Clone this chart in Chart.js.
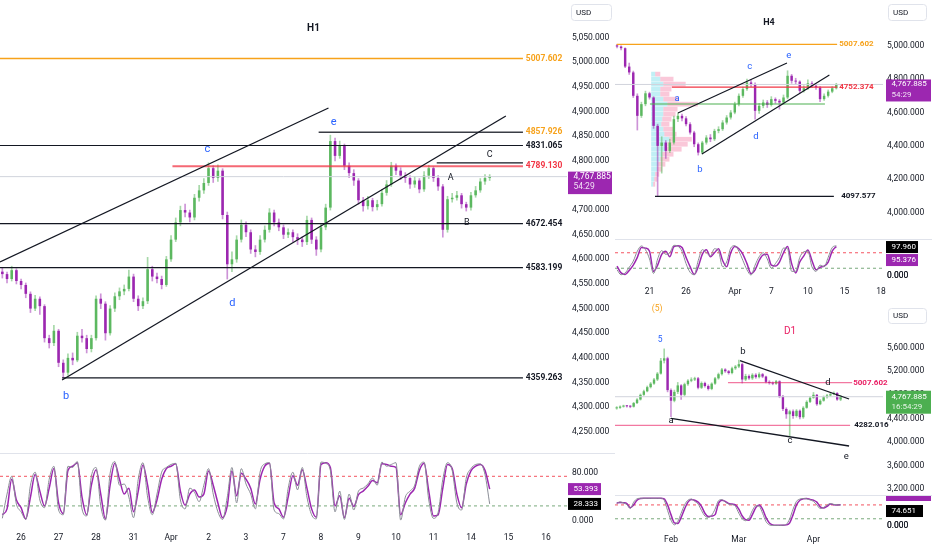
<!DOCTYPE html>
<html>
<head>
<meta charset="utf-8">
<title>H1 / H4 / D1</title>
<script src="https://cdn.jsdelivr.net/npm/chart.js@4.4.1/dist/chart.umd.min.js"></script>
<style>
  html, body { margin: 0; padding: 0; background: #fff; }
  #board { position: relative; width: 932px; height: 550px; overflow: hidden; background: #fff; }
  #board canvas { position: absolute; }
</style>
</head>
<body>
<div id="board">
  <canvas id="h1Price" width="615" height="453" style="left:0px;top:0px"></canvas>
  <canvas id="h1Stoch" width="615" height="97" style="left:0px;top:453px"></canvas>
  <canvas id="h4Price" width="317" height="239" style="left:615px;top:0px"></canvas>
  <canvas id="h4Stoch" width="317" height="61" style="left:615px;top:239px"></canvas>
  <canvas id="d1Price" width="317" height="195" style="left:615px;top:300px"></canvas>
  <canvas id="d1Stoch" width="317" height="55" style="left:615px;top:495px"></canvas>
</div>
<script>
// ---------- data ----------
const lastPrice = 4767.885;

// H1
const h1TickText = ['26', '27', '28', '31', 'Apr', '2', '3', '7', '8', '9', '10', '11', '14', '15', '16'];
const h1TickSlots = [4, 12, 20, 28, 36, 44, 52, 60, 68, 76, 84, 92, 100, 108, 116];
const h1PriceTicks = [4250, 4300, 4350, 4400, 4450, 4500, 4550, 4600, 4650, 4700, 4750, 4800, 4850, 4900, 4950, 5000, 5050];
const h1StochTicks = [0, 80];
const h1FirstOpen = 4575;
const h1Close = [4570, 4560, 4578, 4556, 4548, 4530, 4500, 4520, 4505, 4440,
  4430, 4455, 4390, 4370, 4400, 4395, 4445, 4440, 4418, 4440,
  4520, 4510, 4450, 4500, 4525, 4535, 4540, 4565, 4520, 4505,
  4515, 4580, 4565, 4560, 4548, 4600, 4640, 4675, 4700, 4695,
  4685, 4725, 4740, 4755, 4785, 4765, 4780, 4690, 4590, 4600,
  4640, 4670, 4655, 4620, 4615, 4640, 4660, 4695, 4675, 4665,
  4650, 4655, 4645, 4640, 4635, 4680, 4640, 4620, 4665, 4705,
  4840, 4810, 4830, 4790, 4775, 4760, 4720, 4708, 4720, 4706,
  4712, 4735, 4752, 4790, 4780, 4770, 4765, 4752, 4760, 4742,
  4770, 4785, 4765, 4748, 4660, 4722, 4725, 4730, 4712, 4705,
  4730, 4740, 4758, 4765, 4767.885];
const h1High = [4582, 4574, 4586, 4581, 4560, 4552, 4534, 4527, 4524, 4508,
  4446, 4466, 4458, 4396, 4408, 4410, 4452, 4458, 4446, 4446,
  4526, 4530, 4514, 4506, 4532, 4542, 4548, 4578, 4570, 4526,
  4522, 4604, 4586, 4572, 4566, 4606, 4648, 4684, 4708, 4712,
  4700, 4732, 4750, 4764, 4796, 4790, 4792, 4784, 4696, 4615,
  4648, 4680, 4676, 4660, 4628, 4648, 4668, 4703, 4700, 4682,
  4670, 4662, 4660, 4652, 4646, 4688, 4684, 4646, 4672, 4712,
  4852, 4846, 4840, 4834, 4796, 4782, 4764, 4726, 4728, 4724,
  4720, 4742, 4760, 4797, 4794, 4786, 4776, 4770, 4768, 4764,
  4778, 4791, 4788, 4770, 4752, 4728, 4734, 4738, 4734, 4716,
  4736, 4748, 4764, 4772, 4772];
const h1Low = [4562, 4552, 4556, 4550, 4540, 4522, 4492, 4496, 4488, 4432,
  4420, 4425, 4382, 4359, 4365, 4386, 4392, 4432, 4410, 4412,
  4436, 4500, 4436, 4446, 4494, 4518, 4528, 4536, 4514, 4496,
  4500, 4510, 4556, 4552, 4540, 4545, 4596, 4636, 4668, 4686,
  4676, 4680, 4718, 4734, 4750, 4756, 4758, 4682, 4560, 4575,
  4594, 4635, 4646, 4612, 4605, 4610, 4635, 4655, 4668, 4658,
  4642, 4644, 4636, 4630, 4626, 4630, 4632, 4608, 4615, 4660,
  4700, 4800, 4805, 4782, 4766, 4750, 4712, 4698, 4702, 4698,
  4700, 4708, 4730, 4748, 4772, 4762, 4756, 4744, 4746, 4735,
  4738, 4764, 4758, 4740, 4645, 4655, 4716, 4720, 4704, 4698,
  4700, 4726, 4736, 4752, 4760];
const h1StochK = [4, 45, 75, 28, 15, 2, 60, 82, 35, 22,
  70, 92, 18, 10, 92, 90, 100, 20, 8, 75,
  90, 25, 1, 80, 100, 60, 62, 40, 5, 70,
  98, 40, 10, 45, 82, 90, 95, 97, 35, 20,
  55, 48, 32, 60, 88, 45, 15, 2, 40, 90,
  30, 88, 62, 45, 20, 82, 96, 98, 18, 12,
  3, 55, 82, 52, 90, 40, 10, 3, 99, 97,
  85, 15, 50, 2, 45, 18, 50, 55, 62, 72,
  60, 99, 92, 95, 98, 1, 40, 50, 60, 92,
  99, 35, 4, 14, 70, 98, 85, 30, 18, 72,
  88, 95, 96, 78, 28.333];
const h1StochD = [10, 20, 70, 35, 22, 3, 40, 78, 50, 25,
  55, 88, 30, 12, 85, 92, 98, 40, 10, 60,
  86, 45, 3, 60, 97, 70, 45, 55, 15, 50,
  94, 60, 14, 35, 70, 88, 92, 96, 50, 26,
  45, 52, 40, 45, 84, 60, 30, 5, 25, 84,
  42, 80, 70, 55, 28, 70, 92, 97, 30, 20,
  6, 40, 76, 60, 86, 55, 20, 6, 95, 98,
  90, 25, 42, 5, 38, 24, 44, 50, 58, 68,
  64, 96, 95, 92, 90, 10, 30, 45, 55, 85,
  97, 50, 8, 10, 55, 95, 88, 45, 22, 62,
  84, 92, 95, 85, 53.393];

// H4
const h4TickText = ['21', '26', 'Apr', '7', '10', '15', '18'];
const h4TickSlots = [8, 17, 29, 38, 47, 56, 65];
const h4PriceTicks = [4000, 4200, 4400, 4600, 4800, 5000];
const h4StochTicks = [0];
const h4FirstOpen = 5002;
const h4Close = [4995, 4985, 4875, 4840, 4700, 4580, 4650, 4715, 4690, 4520,
  4400, 4420, 4370, 4420, 4560, 4580, 4565, 4530, 4480, 4410,
  4360, 4420, 4450, 4440, 4490, 4500, 4540, 4570, 4600, 4650,
  4700, 4740, 4780, 4770, 4610, 4640, 4660, 4645, 4680, 4670,
  4660, 4690, 4820, 4790, 4785, 4730, 4745, 4775, 4760, 4750,
  4680, 4700, 4725, 4745, 4767.885];
const h4High = [5008, 4999, 4988, 4896, 4848, 4712, 4662, 4728, 4722, 4695,
  4530, 4455, 4432, 4440, 4578, 4596, 4590, 4575, 4540, 4488,
  4418, 4428, 4462, 4468, 4500, 4515, 4552, 4582, 4612, 4662,
  4712, 4752, 4800, 4796, 4778, 4655, 4675, 4672, 4695, 4688,
  4678, 4705, 4850, 4828, 4805, 4790, 4760, 4795, 4785, 4770,
  4756, 4712, 4735, 4755, 4775];
const h4Low = [4986, 4975, 4868, 4828, 4690, 4495, 4570, 4640, 4680, 4505,
  4097, 4237, 4325, 4360, 4410, 4545, 4550, 4520, 4470, 4395,
  4345, 4352, 4410, 4425, 4432, 4478, 4492, 4530, 4560, 4592,
  4640, 4690, 4732, 4755, 4560, 4595, 4628, 4630, 4638, 4655,
  4620, 4650, 4682, 4775, 4770, 4718, 4722, 4738, 4748, 4738,
  4665, 4672, 4692, 4718, 4740];
const h4StochK = [20, 4, 10, 28, 48, 80, 97, 85, 55, 8,
  55, 82, 70, 75, 99, 96, 80, 40, 12, 4,
  50, 85, 75, 65, 88, 80, 30, 45, 90, 98,
  80, 50, 20, 3, 35, 62, 75, 55, 25, 40,
  60, 90, 88, 15, 15, 60, 78, 80, 30, 15,
  35, 30, 60, 92, 97.96];
const h4StochD = [32, 10, 5, 18, 35, 60, 92, 90, 80, 15,
  35, 70, 80, 62, 95, 98, 92, 60, 30, 5,
  30, 70, 85, 62, 75, 88, 50, 30, 75, 95,
  88, 70, 40, 8, 20, 50, 68, 70, 35, 32,
  45, 75, 95, 40, 10, 45, 65, 84, 50, 20,
  28, 32, 45, 80, 95.376];
// fixed range volume profile rows (price centre, up volume, down volume)
const h4ProfLevels = [4830, 4800, 4770, 4740, 4710, 4680, 4650, 4620, 4590, 4560, 4530, 4500,
  4470, 4440, 4410, 4380, 4350, 4320, 4290, 4260, 4230, 4200, 4170];
const h4ProfUp = [4, 9, 12, 9, 9, 12, 16, 12, 12, 11, 10, 12, 13, 18, 16, 14, 11, 9, 7, 6, 4, 3, 2];
const h4ProfDown = [5, 13, 22, 11, 9, 15, 30, 14, 12, 9, 8, 10, 12, 22, 20, 16, 11, 9, 7, 5, 4, 3, 2];

// D1
const d1TickText = ['Feb', 'Mar', 'Apr'];
const d1TickSlots = [16, 36, 58];
const d1PriceTicks = [3200, 3600, 4000, 4400, 4800, 5200, 5600];
const d1StochTicks = [0];
const d1FirstOpen = 4570;
const d1Close = [4580, 4600, 4610, 4605, 4598, 4660, 4720, 4800, 4860, 4930,
  4990, 5060, 5160, 5380, 5420, 4880, 4700, 4850, 4960, 4800,
  4980, 5040, 5060, 5080, 4920, 5000, 4950, 4900, 4990, 5080,
  5150, 5230, 5200, 5170, 5250, 5280, 5320, 5060, 5120, 5080,
  5140, 5100, 5150, 5110, 5020, 5000, 4990, 5030, 4770, 4560,
  4470, 4520, 4440, 4530, 4420, 4580, 4680, 4750, 4800, 4640,
  4700, 4760, 4790, 4810, 4830, 4720, 4767.885];
const d1High = [4600, 4615, 4625, 4620, 4618, 4672, 4735, 4815, 4880, 4950,
  5010, 5080, 5180, 5420, 5580, 5440, 4900, 4880, 5010, 4975,
  5000, 5060, 5090, 5100, 5095, 5020, 5015, 4970, 5005, 5095,
  5170, 5250, 5245, 5215, 5270, 5300, 5390, 5340, 5150, 5140,
  5160, 5160, 5175, 5165, 5120, 5040, 5020, 5045, 5040, 4790,
  4580, 4540, 4545, 4550, 4545, 4600, 4700, 4770, 4840, 4810,
  4720, 4780, 4810, 4830, 4850, 4840, 4790];
const d1Low = [4555, 4570, 4590, 4590, 4580, 4590, 4650, 4710, 4790, 4850,
  4915, 4975, 5040, 5150, 5340, 4850, 4430, 4680, 4820, 4720,
  4780, 4960, 5020, 5040, 4900, 4905, 4930, 4880, 4885, 4975,
  5065, 5135, 5180, 5150, 5155, 5230, 5260, 5000, 5040, 5060,
  5060, 5080, 5085, 5090, 5000, 4980, 4970, 4975, 4750, 4530,
  4400, 4100, 4400, 4420, 4390, 4400, 4570, 4665, 4740, 4620,
  4630, 4690, 4745, 4775, 4800, 4705, 4700];
const d1StochK = [80, 86, 82, 76, 62, 85, 97, 99, 99, 99,
  99, 99, 99, 99, 92, 55, 20, 3, 15, 45,
  75, 92, 96, 88, 78, 55, 35, 30, 38, 60,
  90, 94, 85, 78, 76, 70, 45, 25, 18, 28,
  55, 72, 70, 45, 15, 3, 1, 1, 1, 2,
  5, 25, 60, 88, 96, 98, 97, 93, 88, 75,
  62, 66, 74, 80, 77, 75, 74.651];
const d1StochD = [82, 84, 83, 80, 65, 75, 92, 98, 99, 99,
  99, 99, 99, 99, 97, 75, 40, 10, 8, 30,
  60, 85, 95, 92, 85, 70, 45, 33, 35, 40,
  80, 92, 88, 80, 78, 75, 60, 35, 22, 20,
  40, 65, 75, 60, 30, 10, 3, 2, 2, 2,
  3, 10, 40, 75, 92, 97, 98, 95, 92, 85,
  68, 64, 70, 78, 76, 75, 75.9];

// ---------- helpers ----------
const FONT = 'Roboto, "Liberation Sans", Arial, sans-serif';
const INK = '#131722';
const UP = '#5cb860', DOWN = '#9c27b0';
const UP_WICK = 'rgba(92,184,96,0.55)', DOWN_WICK = 'rgba(156,39,176,0.5)';
const BLUE = '#2962ff', ORANGE = '#f7a21b', RED = '#f23645', PINK = '#e91e63';

Chart.defaults.animation = false;
Chart.defaults.font.family = FONT;

const fmt = v => Number(v).toLocaleString('en-US', { minimumFractionDigits: 3, maximumFractionDigits: 3 });

function opensOf(first, closes) {
  return closes.map((c, i) => (i === 0 ? first : closes[i - 1]));
}

function slotLabels(n, slots, text) {
  const out = new Array(n).fill('');
  slots.forEach((s, i) => { out[s] = text[i]; });
  return out;
}

function candleSets(first, closes, highs, lows, bodyPct) {
  const opens = opensOf(first, closes);
  const up = closes.map((c, i) => c >= opens[i]);
  return [
    {
      data: highs.map((h, i) => [lows[i], h]),
      backgroundColor: up.map(u => (u ? UP_WICK : DOWN_WICK)),
      barThickness: 1, grouped: false, order: 2, borderWidth: 0
    },
    {
      data: closes.map((c, i) => [Math.min(opens[i], c), Math.max(opens[i], c)]),
      backgroundColor: up.map(u => (u ? UP : DOWN)),
      barPercentage: bodyPct, categoryPercentage: 1, grouped: false,
      minBarLength: 1, order: 1, borderWidth: 0
    }
  ];
}

function stochSets(k, d) {
  return [
    { data: k, borderColor: '#8a8d96', borderWidth: 1, pointRadius: 0, cubicInterpolationMode: 'monotone' },
    { data: d, borderColor: '#9c27b0', borderWidth: 1.5, pointRadius: 0, cubicInterpolationMode: 'monotone' }
  ];
}

function xAxis(labels, show, pad, height, size) {
  return {
    type: 'category', labels, offset: true, display: show,
    grid: { display: false, drawTicks: false }, border: { display: false },
    afterFit: s => { if (show) s.height = height; s.paddingLeft = 0; s.paddingRight = 0; },
    ticks: { autoSkip: false, maxRotation: 0, padding: pad, color: INK, font: { size } }
  };
}

function yAxis(min, max, ticks, width, pad, size) {
  return {
    type: 'linear', position: 'right', min, max,
    grid: { display: false, drawTicks: false }, border: { display: false },
    afterBuildTicks: s => { s.ticks = ticks.map(v => ({ value: v })); },
    afterFit: s => { s.width = width; s.paddingTop = 0; s.paddingBottom = 0; },
    ticks: { autoSkip: false, padding: pad, color: INK, font: { size }, callback: v => fmt(v) }
  };
}

const X = (c, s) => c.scales.x.getPixelForValue(s);
const Y = (c, v) => c.scales.y.getPixelForValue(v);

function seg(c, s1, v1, s2, v2, color, width, dash) {
  const ctx = c.ctx;
  ctx.save();
  ctx.strokeStyle = color; ctx.lineWidth = width; ctx.setLineDash(dash || []);
  ctx.beginPath();
  ctx.moveTo(X(c, s1), Y(c, v1));
  ctx.lineTo(X(c, s2), Y(c, v2));
  ctx.stroke();
  ctx.restore();
}

function level(c, v, s1, s2, color, width, dash) { seg(c, s1, v, s2, v, color, width, dash); }

function note(c, s, v, text, color, font, align) {
  const ctx = c.ctx;
  ctx.save();
  ctx.fillStyle = color; ctx.font = font;
  ctx.textAlign = align || 'center'; ctx.textBaseline = 'middle';
  ctx.fillText(text, X(c, s), Y(c, v));
  ctx.restore();
}

// price / value box on the right axis
function axisTag(c, v, rows, bg, left, right, up, down, size, gap, dy) {
  const ctx = c.ctx;
  const y = Y(c, v) + (dy || 0);
  ctx.save();
  ctx.fillStyle = bg;
  ctx.fillRect(left, y - up, right - left, up + down);
  ctx.font = size + 'px ' + FONT;
  ctx.textAlign = 'left'; ctx.textBaseline = 'middle';
  rows.forEach((r, i) => {
    ctx.fillStyle = i === 0 ? '#ffffff' : 'rgba(255,255,255,0.85)';
    ctx.fillText(r, left + 5.5, y + i * gap);
  });
  ctx.restore();
}

// axis value text drawn through the y scale (used where a pane has a single tick)
function axisValue(c, v, size) {
  const ctx = c.ctx;
  const s = c.scales.y;
  ctx.save();
  ctx.fillStyle = INK; ctx.font = size + 'px ' + FONT;
  ctx.textAlign = 'left'; ctx.textBaseline = 'middle';
  ctx.fillText(fmt(v), s.left + s.options.ticks.padding, s.getPixelForValue(v));
  ctx.restore();
}

function usdBox(c, x, y, w, h) {
  const ctx = c.ctx;
  ctx.save();
  ctx.fillStyle = '#fff'; ctx.strokeStyle = '#e0e3eb'; ctx.lineWidth = 1;
  ctx.beginPath(); ctx.roundRect(x + 0.5, y + 0.5, w, h, 3); ctx.fill(); ctx.stroke();
  ctx.fillStyle = INK; ctx.font = '8px ' + FONT; ctx.textBaseline = 'middle'; ctx.textAlign = 'left';
  ctx.fillText('USD', x + 5, y + h / 2 + 0.5);
  ctx.restore();
}

function topRule(c) {
  const ctx = c.ctx;
  ctx.save(); ctx.strokeStyle = '#e0e3eb'; ctx.lineWidth = 1;
  ctx.beginPath(); ctx.moveTo(0, 0.5); ctx.lineTo(c.width, 0.5); ctx.stroke();
  ctx.restore();
}

function bands(c) {
  const end = c.scales.x.max + 0.5;
  level(c, 75, -0.5, end, 'rgba(242,54,69,0.85)', 1, [3, 3]);
  level(c, 25, -0.5, end, 'rgba(76,140,80,0.75)', 1, [3, 3]);
}

function overlay(behind, front, top) {
  return {
    id: 'overlay',
    beforeDatasetsDraw(c) { if (behind) behind(c); },
    afterDatasetsDraw(c) { if (front) front(c); },
    afterDraw(c) { if (top) top(c); }
  };
}

function build(id, type, datasets, x, y, plugin) {
  return new Chart(document.getElementById(id), {
    type,
    data: { datasets },
    options: {
      responsive: false, maintainAspectRatio: false,
      layout: { padding: 0 },
      events: [],
      plugins: { legend: { display: false }, tooltip: { enabled: false } },
      scales: { x, y }
    },
    plugins: [plugin]
  });
}

// ---------- H1 ----------
const h1Labels = slotLabels(121, h1TickSlots, h1TickText);
const lvlFont = 'bold 8.5px ' + FONT;

build('h1Price', 'bar', candleSets(h1FirstOpen, h1Close, h1High, h1Low, 0.55),
  xAxis(h1Labels, false, 0, 0, 8.5),
  yAxis(4206.9, 5126.4, h1PriceTicks, 48, 5, 8.5),
  overlay(null, c => {
    const end = c.scales.x.max + 0.5;
    level(c, lastPrice, -0.5, end, '#d1d4dc', 1);
    level(c, 5007.602, -0.5, 111.1, ORANGE, 1.5);
    level(c, 4857.926, 67.5, 111.1, '#3a3d45', 1.5);
    level(c, 4831.065, -0.5, 111.1, INK, 1.2);
    level(c, 4795.6, 92.7, 111.1, INK, 1.2);
    level(c, 4789.13, 36.3, 111.1, 'rgba(242,54,69,0.75)', 2);
    level(c, 4672.454, -0.5, 111.1, INK, 1.2);
    level(c, 4583.199, -0.5, 111.1, INK, 1.2);
    level(c, 4359.263, 12.75, 111.1, INK, 1.2);
    seg(c, -0.5, 4594.7, 69.6, 4907.2, INK, 1.3);
    seg(c, 12.75, 4355.2, 107.45, 4891.0, INK, 1.3);
    [[5007.602, ORANGE], [4857.926, ORANGE], [4831.065, INK], [4789.13, RED],
     [4672.454, INK], [4583.199, INK], [4359.263, INK]].forEach(([v, col]) => {
      note(c, 111.7, v, v.toFixed(3), col, lvlFont, 'left');
    });
    note(c, 66.4, 5067.6, 'H1', INK, 'bold 10px ' + FONT);
    note(c, 43.75, 4823.9, 'c', BLUE, '11px ' + FONT);
    note(c, 70.7, 4878.8, 'e', BLUE, '11px ' + FONT);
    note(c, 49.1, 4511.4, 'd', BLUE, '11px ' + FONT);
    note(c, 13.6, 4322.7, 'b', BLUE, '11px ' + FONT);
    note(c, 95.7, 4765.2, 'A', INK, '9px ' + FONT);
    note(c, 99.1, 4673.9, 'B', INK, '9px ' + FONT);
    note(c, 104.0, 4812.0, 'C', INK, '9px ' + FONT);
  }, c => {
    const r = c.chartArea.right;
    axisTag(c, lastPrice, [fmt(lastPrice), '54:29'], '#9c27b0', r + 1, r + 45, 5, 17.5, 8.5, 10.5);
    usdBox(c, r + 4, 4, 40, 16);
  }));

build('h1Stoch', 'line', stochSets(h1StochK, h1StochD),
  xAxis(h1Labels, true, 4.5, 22, 8.5),
  yAxis(-12.33, 114.36, h1StochTicks, 48, 5, 8.5),
  overlay(bands, null, c => {
    const r = c.chartArea.right;
    axisTag(c, 53.393, ['53.393'], '#9c27b0', r + 1, r + 34, 6, 6, 8, 0);
    axisTag(c, 28.333, ['28.333'], '#000000', r + 1, r + 34, 6, 6, 8, 0);
    topRule(c);
  }));

// ---------- H4 ----------
const h4Labels = slotLabels(66, h4TickSlots, h4TickText);

build('h4Price', 'bar', candleSets(h4FirstOpen, h4Close, h4High, h4Low, 0.6),
  xAxis(h4Labels, false, 0, 0, 8.5),
  yAxis(3842.5, 5273.7, h4PriceTicks, 49, 4, 8.5),
  overlay(c => {
    // volume profile, one volume unit = a quarter slot
    const ctx = c.ctx;
    const unit = (X(c, 1) - X(c, 0)) / 4;
    const x0 = X(c, 8.4);
    ctx.save();
    h4ProfLevels.forEach((p, i) => {
      const yTop = Y(c, p + 14), yBot = Y(c, p - 14);
      const h = yBot - yTop;
      ctx.fillStyle = 'rgba(77,208,225,0.35)';
      ctx.fillRect(x0, yTop, h4ProfUp[i] * unit, h);
      ctx.fillStyle = 'rgba(240,98,146,0.35)';
      ctx.fillRect(x0 + h4ProfUp[i] * unit, yTop, h4ProfDown[i] * unit, h);
    });
    ctx.restore();
  }, c => {
    const end = c.scales.x.max + 0.5;
    level(c, lastPrice, -0.5, end, '#d1d4dc', 1);
    level(c, 5007.602, -0.08, 54.2, ORANGE, 1.3);
    level(c, 4752.374, 13.5, 54.2, RED, 1.2);
    level(c, 4651, 8.1, 51.2, '#4caf50', 1.2);
    level(c, 4097.577, 9.35, 53.4, INK, 1.3);
    seg(c, 15.0, 4597, 41.85, 4896, INK, 1.2);
    seg(c, 20.9, 4351, 52.3, 4825, INK, 1.2);
    note(c, 54.7, 5007.602, '5007.602', ORANGE, 'bold 8px ' + FONT, 'left');
    note(c, 54.7, 4752.374, '4752.374', RED, 'bold 8px ' + FONT, 'left');
    note(c, 55.2, 4097.577, '4097.577', INK, 'bold 8px ' + FONT, 'left');
    note(c, 37.4, 5136, 'H4', INK, 'bold 9px ' + FONT);
    note(c, 14.8, 4681, 'a', BLUE, '9.5px ' + FONT);
    note(c, 20.4, 4256, 'b', BLUE, '9.5px ' + FONT);
    note(c, 32.7, 4873, 'c', BLUE, '9.5px ' + FONT);
    note(c, 34.2, 4453, 'd', BLUE, '9.5px ' + FONT);
    note(c, 42.3, 4938, 'e', BLUE, '9.5px ' + FONT);
  }, c => {
    const r = c.chartArea.right;
    axisTag(c, lastPrice, [fmt(lastPrice), '54:29'], '#9c27b0', r + 3, r + 48, 5, 17, 8, 10.5);
    usdBox(c, r + 5, 4, 38, 16);
  }));

build('h4Stoch', 'line', stochSets(h4StochK, h4StochD),
  xAxis(h4Labels, true, 4.5, 18, 8.5),
  yAxis(-19.4, 119.4, h4StochTicks, 49, 4, 8.5),
  overlay(bands, null, c => {
    const r = c.chartArea.right;
    h4StochTicks.forEach(v => axisValue(c, v, 8.5));
    axisTag(c, 97.96, ['97.960'], '#000000', r + 3, r + 35, 6, 6, 8, 0, 1.4);
    axisTag(c, 95.376, ['95.376'], '#9c27b0', r + 3, r + 35, 6, 6, 8, 0, 13.6);
    topRule(c);
  }));

// ---------- D1 ----------
const d1Labels = slotLabels(79, d1TickSlots, d1TickText);

build('d1Price', 'bar', candleSets(d1FirstOpen, d1Close, d1High, d1Low, 0.7),
  xAxis(d1Labels, false, 0, 0, 8.5),
  yAxis(3099, 6409.9, d1PriceTicks, 49, 4, 8.5),
  overlay(null, c => {
    const end = c.scales.x.max + 0.5;
    level(c, lastPrice, -0.5, end, '#d1d4dc', 1);
    level(c, 5007.602, 32.8, 69.4, 'rgba(233,30,99,0.6)', 1.2);
    level(c, 4282.016, -0.5, 68.8, 'rgba(233,30,99,0.6)', 1.2);
    seg(c, 36.35, 5379, 68.5, 4729, INK, 1.3);
    seg(c, 16.0, 4401, 68.5, 3931, INK, 1.3);
    note(c, 69.7, 5007.602, '5007.602', PINK, 'bold 8px ' + FONT, 'left');
    note(c, 70.0, 4282.016, '4282.016', INK, 'bold 8px ' + FONT, 'left');
    note(c, 11.9, 6257, '(5)', ORANGE, '8.5px ' + FONT);
    note(c, 51.1, 5883, 'D1', PINK, '10px ' + FONT);
    note(c, 12.8, 5731, '5', BLUE, '8.5px ' + FONT);
    note(c, 37.2, 5527, 'b', INK, '9.5px ' + FONT);
    note(c, 62.3, 5001, 'd', INK, '9.5px ' + FONT);
    note(c, 16.0, 4356, 'a', INK, '9.5px ' + FONT);
    note(c, 51.1, 4016, 'c', INK, '9.5px ' + FONT);
    note(c, 67.7, 3744, 'e', INK, '9.5px ' + FONT);
  }, c => {
    const r = c.chartArea.right;
    axisTag(c, lastPrice, [fmt(lastPrice), '16:54:29'], '#4caf50', r + 3, r + 48, 6, 17, 8, 10.5);
    usdBox(c, r + 5, 8, 38, 15);
  }));

build('d1Stoch', 'line', stochSets(d1StochK, d1StochD),
  xAxis(d1Labels, true, 6.5, 22, 8.5),
  yAxis(-8.3, 110.8, d1StochTicks, 49, 4, 8.5),
  overlay(bands, null, c => {
    const r = c.chartArea.right;
    const ctx = c.ctx;
    d1StochTicks.forEach(v => axisValue(c, v, 8.5));
    ctx.save(); ctx.fillStyle = '#9c27b0'; ctx.fillRect(r + 3, 0, 45, 6); ctx.restore();
    axisTag(c, 74.651, ['74.651'], '#000000', r + 3, r + 40, 6, 6, 8, 0, 6);
    topRule(c);
  }));
</script>
</body>
</html>
